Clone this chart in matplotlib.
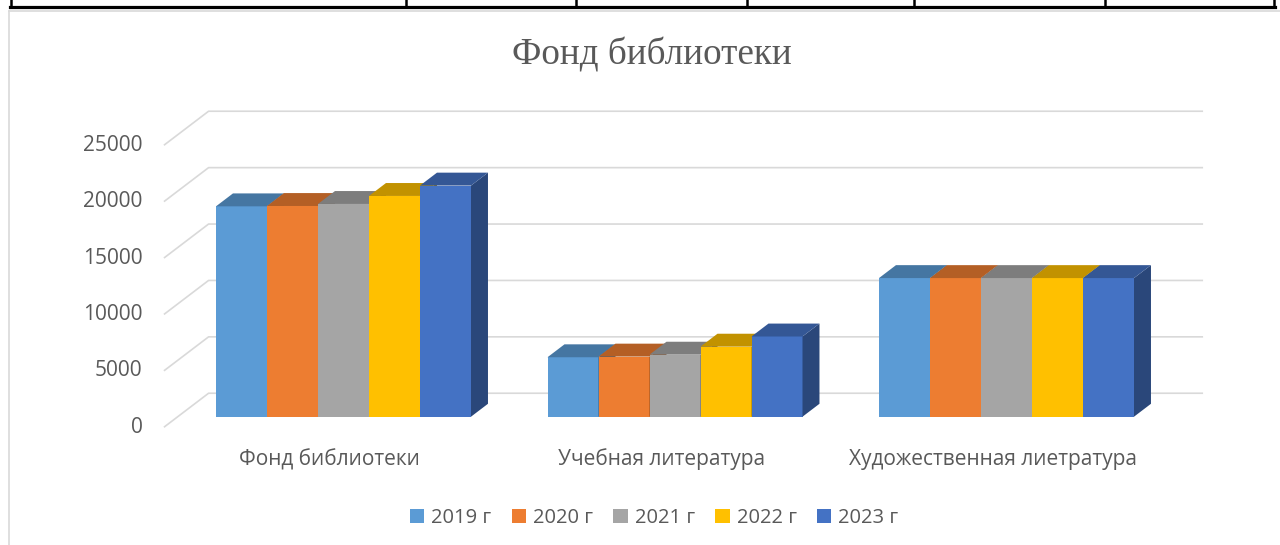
import numpy as np
import matplotlib.pyplot as plt
from matplotlib.patches import Polygon
from matplotlib.lines import Line2D
from matplotlib.colors import to_rgb

# Data
categories = ['Фонд библиотеки', 'Учебная литература', 'Художественная лиетратура']
years = ['2019 г', '2020 г', '2021 г', '2022 г', '2023 г']
fond = [18650, 18680, 18860, 19570, 20490]
uchebnaya = [5270, 5330, 5500, 6210, 7110]
hudozh = [12290, 12290, 12290, 12290, 12290]
y_ticks = [0, 5000, 10000, 15000, 20000, 25000]

colors = ['#5B9BD5', '#ED7D31', '#A5A5A5', '#FFC000', '#4472C4']
text_color = '#595959'
grid_color = '#D9D9D9'

plt.rcParams['font.family'] = ['Open Sans', 'DejaVu Sans']

# 3D look: full floor depth vector in data units (slots, value)
depth_x, depth_y = 0.876, 3014
front_frac, back_frac = 0.31, 0.69
gap = 1.5
n_years = len(years)
group_step = n_years + gap

# pixel mapping used to fit the whole figure into one axes
px_per_slot = 51.0
px_per_unit = 0.01128
x0_px, y0_px = 216.0, 416.7
W, H = 1280, 545

fig = plt.figure(figsize=(W / 100, H / 100), dpi=100)
ax = fig.add_axes([0, 0, 1, 1])
ax.set_xlim(-x0_px / px_per_slot, (W - x0_px) / px_per_slot)
ax.set_ylim((y0_px - H) / px_per_unit, y0_px / px_per_unit)
ax.axis('off')


def shade(c, k):
    r, g, b = to_rgb(c)
    return (r * k, g * k, b * k)


# walls and gridlines
wall_left = -gap / 2
wall_right = group_step * (len(categories) - 1) + n_years + gap / 2
fx, fy = -front_frac * depth_x, -front_frac * depth_y
bx, by = back_frac * depth_x, back_frac * depth_y
for v in y_ticks:
    ax.plot([wall_left + fx, wall_left + bx, wall_right + bx],
            [v + fy, v + by, v + by], color=grid_color, lw=1.2,
            solid_capstyle='butt', zorder=1)
    ax.text(wall_left + fx - 0.42, v + fy, str(v), ha='right', va='center',
            fontsize=15, color=text_color)

# bars
bar_dx = (back_frac - front_frac) * depth_x
bar_dy = (back_frac - front_frac) * depth_y
data = [fond, uchebnaya, hudozh]
z = 2
for g, vals in enumerate(data):
    for i, h in enumerate(vals):
        x = g * group_step + i
        c = colors[i]
        ax.bar(x, h, width=1, align='edge', color=c, lw=0, zorder=z)
        side = Polygon([(x + 1, 0), (x + 1 + bar_dx, bar_dy),
                        (x + 1 + bar_dx, h + bar_dy), (x + 1, h)],
                       closed=True, fc=shade(c, 0.62), lw=0, zorder=z)
        top = Polygon([(x, h), (x + 1, h), (x + 1 + bar_dx, h + bar_dy),
                       (x + bar_dx, h + bar_dy)],
                      closed=True, fc=shade(c, 0.76), lw=0, zorder=z)
        ax.add_patch(side)
        ax.add_patch(top)
        z += 1
    ax.text(g * group_step + n_years / 2 + fx, fy - 2850, categories[g],
            ha='center', va='center', fontsize=15, color=text_color)

# legend
handles = [plt.Rectangle((0, 0), 1, 1, fc=c, lw=0) for c in colors]
fig.legend(handles, years, loc='center', bbox_to_anchor=(0.511, 0.05),
           ncol=5, frameon=False, fontsize=14.5, labelcolor=text_color,
           handlelength=0.72, handleheight=0.72, handletextpad=0.35,
           columnspacing=1.0)

fig.text(0.509, 1 - 55 / H, 'Фонд библиотеки', ha='center', va='center',
         fontsize=26.7, color=text_color, family='Liberation Serif')

# chart border and table lines above it
fig.add_artist(Line2D([9 / W, 1], [1 - 10.5 / H, 1 - 10.5 / H], color=grid_color, lw=1.2))
fig.add_artist(Line2D([9 / W, 9 / W], [0, 1 - 10.5 / H], color=grid_color, lw=1.2))
fig.add_artist(Line2D([10 / W, 1275 / W], [1 - 7.3 / H, 1 - 7.3 / H], color='black', lw=2.3))
for xv in [10.5, 405.7, 575.5, 747, 914.3, 1104.7, 1274]:
    fig.add_artist(Line2D([xv / W, xv / W], [1 - 7.3 / H, 1], color='black', lw=1.8))

fig.savefig('out.png', dpi=100)
